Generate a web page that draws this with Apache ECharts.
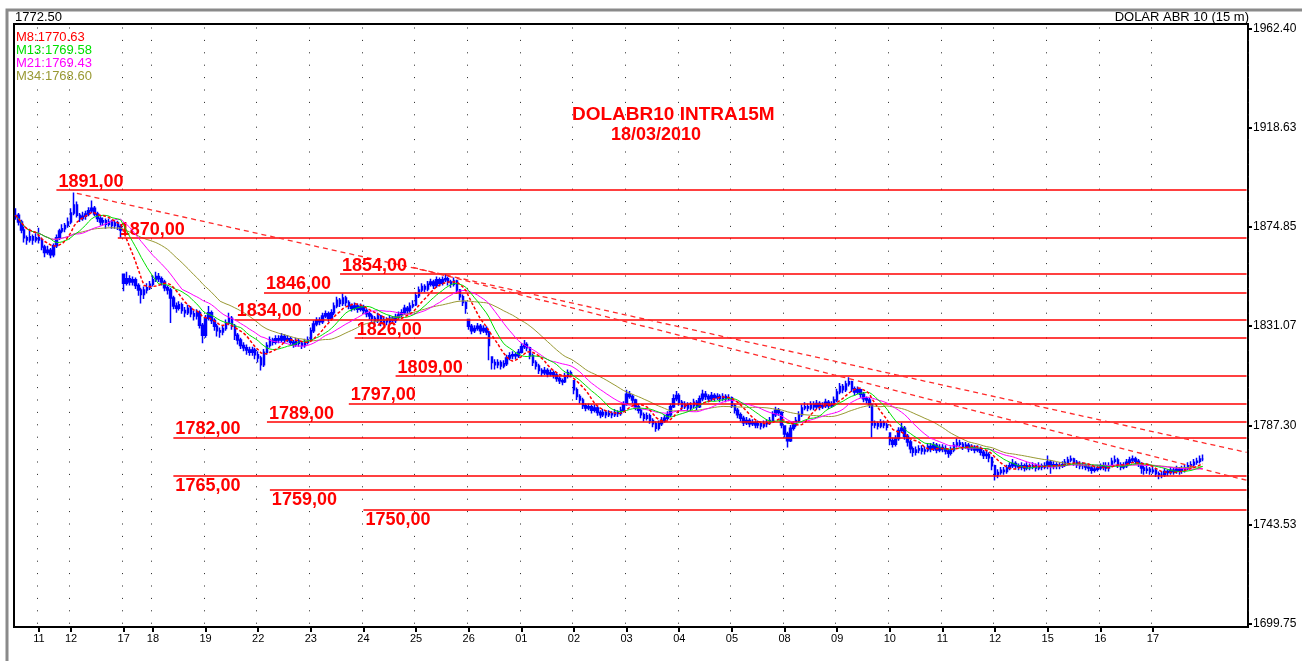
<!DOCTYPE html>
<html>
<head>
<meta charset="UTF-8">
<title>DOLABR10 INTRA15M</title>
<script src="https://cdn.jsdelivr.net/npm/echarts@6/dist/echarts.min.js"></script>
<style>
  html, body { margin: 0; padding: 0; background: #fff; }
  #main { width: 1302px; height: 661px; }
</style>
</head>
<body>
<div id="main"></div>
<script type="text/javascript">
    // dias do grafico (o primeiro bloco e o resto do pregao anterior, sem rotulo)
    var dayLabels = ['', '11', '12', '17', '18', '19', '22', '23', '24', '25', '26', '01', '02', '03', '04', '05', '08', '09', '10', '11', '12', '15', '16', '17'];

    // fechamentos de 30 min, um array por dia
    var closes = [
        [1880, 1877, 1873.5, 1870, 1869, 1870.5, 1869, 1870],
        [1869, 1866, 1863.5, 1864.5, 1862.5, 1866.5, 1870, 1873, 1874, 1875.5, 1877],
        [1881, 1884.5, 1880, 1878.5, 1879.5, 1880.5, 1882, 1883, 1880.5, 1878.5, 1877, 1877.5, 1876, 1877, 1875.5, 1876.5, 1875, 1873.5],
        [1850, 1852, 1850.5, 1851.5, 1849, 1847, 1845, 1847, 1848, 1849.5],
        [1851.5, 1853, 1852, 1850.5, 1848, 1847, 1843.5, 1840, 1839, 1840.5, 1838, 1837, 1839, 1836.5, 1835.5, 1837, 1831.5, 1827],
        [1834.5, 1837, 1833.5, 1831, 1829, 1828.5, 1830, 1832.5, 1834.5, 1831, 1827, 1825, 1822.5, 1821.5, 1820.5, 1819.5, 1820.5, 1818.5],
        [1817, 1814, 1819.5, 1822.5, 1825, 1824, 1825.5, 1825, 1826.5, 1825, 1825.5, 1824, 1823, 1824.5, 1823.5, 1822.5, 1824, 1825],
        [1829, 1832, 1833.5, 1833, 1835.5, 1836.5, 1834.5, 1837, 1840, 1842.5, 1841, 1843.5, 1841.5, 1840, 1839, 1840, 1838.5, 1839.5],
        [1838, 1836.5, 1835.5, 1834.5, 1833.5, 1835.5, 1832.5, 1834, 1833, 1834.5, 1833.5, 1835, 1836, 1837, 1839, 1838, 1840, 1840.5],
        [1844.5, 1847, 1848.5, 1847.5, 1849.5, 1850.5, 1849, 1851.5, 1850, 1851.5, 1852, 1850.5, 1849.5, 1851, 1847, 1844, 1841.5, 1839],
        [1831, 1829, 1830, 1831, 1829, 1830, 1828.5, 1822.5, 1815, 1814, 1815, 1813.5, 1814.5, 1817, 1818, 1818.5, 1818, 1819.5],
        [1822, 1823, 1821.5, 1818, 1815, 1813.5, 1811.5, 1810.5, 1811.5, 1810, 1810.5, 1809.5, 1808, 1807, 1806.5, 1809, 1810.5, 1810],
        [1803, 1800, 1798.5, 1796, 1795, 1795.5, 1794, 1795, 1793, 1792, 1793, 1792, 1792.5, 1792, 1793, 1792.5, 1794, 1796.5],
        [1801, 1800, 1798.5, 1795.5, 1794, 1792, 1790.5, 1791.5, 1789.5, 1788, 1786, 1788, 1789.5, 1790.5, 1792, 1795.5, 1799, 1800.5],
        [1797.5, 1795.5, 1796.5, 1795, 1796, 1797.5, 1795.5, 1799, 1801, 1800, 1799, 1800.5, 1799.5, 1800, 1799, 1800, 1799, 1799.5],
        [1796, 1794, 1792, 1790.5, 1788.5, 1789.5, 1788, 1788.5, 1787.5, 1788, 1787, 1788, 1788.5, 1789.5, 1792, 1794, 1793, 1787.5],
        [1783.5, 1780.5, 1786, 1787.5, 1789.5, 1792, 1795, 1795.5, 1795, 1796.5, 1795.5, 1797, 1795.5, 1796, 1797.5, 1796, 1796.5, 1798.5],
        [1802, 1804.5, 1803, 1805.5, 1806.5, 1803.5, 1802, 1803, 1801, 1799, 1798.5, 1796.5, 1787.5, 1788, 1787, 1788.5, 1787.5, 1786.5],
        [1780.5, 1779, 1781.5, 1785, 1786, 1782.5, 1780, 1777, 1775.5, 1776.5, 1777, 1776, 1776.5, 1778, 1777, 1778.5, 1776.5, 1777.5],
        [1777, 1776, 1775, 1776.5, 1778.5, 1779.5, 1779, 1778, 1778.5, 1777, 1777.5, 1776.5, 1777, 1775.5, 1774, 1774.5, 1773, 1769.5],
        [1765.5, 1766.5, 1767.5, 1767, 1768.5, 1769.5, 1770.5, 1769.5, 1769, 1769.5, 1768.5, 1769.5, 1769, 1769.5, 1768.5, 1769.5, 1769, 1769.5],
        [1771, 1769.5, 1770, 1769.5, 1769.5, 1770, 1771, 1772, 1772.5, 1771, 1770, 1769.5, 1769.5, 1769, 1768.5, 1767.5, 1768, 1768.5],
        [1769, 1769.5, 1768.5, 1769.5, 1771.5, 1772, 1770, 1769, 1769.5, 1771, 1772, 1772.5, 1771.5, 1770.5, 1768.5, 1767.5, 1768, 1767],
        [1767.5, 1766, 1765.5, 1765.5, 1767, 1766.5, 1767.5, 1767, 1768, 1767.5, 1768, 1768.5, 1769.5, 1770, 1771, 1771.5, 1772.5, 1772.5]
    ];
    var highs = [
        [1883, 1881, 1878, 1875, 1871, 1874, 1871.5, 1872],
        [1874.5, 1870, 1867, 1866.5, 1865.5, 1867.5, 1871.5, 1874, 1876, 1876.5, 1879],
        [1883, 1890, 1886, 1881, 1881.5, 1882, 1883.5, 1886.5, 1884, 1881.5, 1879.5, 1879, 1878.5, 1878.5, 1878, 1877.5, 1877.5, 1876],
        [1854, 1855, 1853.5, 1853, 1852.5, 1850, 1848, 1848.5, 1850, 1851],
        [1853.5, 1855, 1854.5, 1853, 1851.5, 1849, 1848, 1844.5, 1841.5, 1842, 1841.5, 1839.5, 1840.5, 1840, 1838, 1838.5, 1838, 1832.5],
        [1836, 1840, 1838, 1834.5, 1832, 1830.5, 1831.5, 1834, 1837, 1835.5, 1832, 1828, 1826, 1824, 1823, 1822, 1822, 1821.5],
        [1820, 1818, 1821, 1824, 1826.5, 1826, 1827, 1827, 1828, 1827.5, 1827, 1826.5, 1825, 1826, 1825.5, 1824.5, 1825.5, 1826.5],
        [1830.5, 1833.5, 1835, 1835, 1837, 1838, 1837.5, 1838.5, 1841.5, 1844, 1843.5, 1845.5, 1844.5, 1842.5, 1841, 1841.5, 1841, 1841],
        [1840.5, 1839, 1837.5, 1836.5, 1835.5, 1837, 1836, 1835.5, 1835, 1836, 1835.5, 1836.5, 1837.5, 1838.5, 1840.5, 1840, 1841.5, 1842.5],
        [1846, 1848.5, 1850, 1849.5, 1851, 1852, 1851.5, 1853, 1852.5, 1853, 1854, 1853, 1851.5, 1852.5, 1851.5, 1847.5, 1845, 1842],
        [1834, 1832, 1831.5, 1832.5, 1832, 1831.5, 1831, 1829, 1817.5, 1816.5, 1816.5, 1816, 1816, 1818.5, 1819.5, 1820, 1819.5, 1821],
        [1823.5, 1825, 1824, 1822, 1819, 1816, 1814.5, 1812.5, 1813, 1812.5, 1812, 1811.5, 1810.5, 1809, 1808, 1810.5, 1812, 1811.5],
        [1807, 1804, 1801, 1799.5, 1797, 1797, 1796.5, 1796.5, 1796, 1794, 1794.5, 1794, 1794, 1793.5, 1794.5, 1794, 1795.5, 1798],
        [1803, 1802.5, 1801, 1799, 1796.5, 1795, 1793, 1793, 1792.5, 1790.5, 1789, 1789.5, 1791, 1792, 1793.5, 1797, 1801, 1802.5],
        [1801.5, 1798.5, 1798, 1797.5, 1797.5, 1799, 1798.5, 1800.5, 1803, 1802.5, 1801, 1802, 1801.5, 1801.5, 1801, 1801.5, 1801, 1801],
        [1800, 1797, 1795, 1793, 1791.5, 1791, 1790.5, 1790, 1789.5, 1789.5, 1789, 1789.5, 1790, 1791, 1793.5, 1795.5, 1795, 1793.5],
        [1787, 1784.5, 1787.5, 1789, 1791, 1793.5, 1796.5, 1797.5, 1797, 1798, 1798, 1798.5, 1798, 1797.5, 1799, 1798.5, 1798, 1800],
        [1803.5, 1806, 1805.5, 1807, 1808.5, 1807, 1804.5, 1804.5, 1803.5, 1802, 1800, 1799.5, 1797, 1789.5, 1789, 1790, 1789.5, 1788.5],
        [1784, 1782, 1783, 1786.5, 1788.5, 1787, 1783.5, 1781, 1778, 1778, 1778.5, 1778.5, 1778, 1779.5, 1779.5, 1780, 1779.5, 1779],
        [1779, 1778.5, 1777, 1778, 1780, 1781.5, 1781, 1780, 1780, 1779.5, 1779, 1778.5, 1778.5, 1778, 1776.5, 1776, 1775.5, 1773.5],
        [1770, 1768, 1769, 1769, 1770, 1771, 1772.5, 1771.5, 1770.5, 1771, 1770.5, 1771, 1770.5, 1771, 1770.5, 1771, 1770.5, 1771],
        [1774, 1772, 1771.5, 1771, 1771, 1771.5, 1772.5, 1773.5, 1774, 1773, 1772, 1771.5, 1771, 1770.5, 1770, 1769.5, 1769.5, 1770],
        [1770.5, 1771, 1771, 1771, 1773, 1774, 1773, 1771, 1771, 1772.5, 1773.5, 1774, 1773.5, 1772.5, 1771, 1769.5, 1769.5, 1769],
        [1769, 1768.5, 1767, 1767, 1768.5, 1768, 1769, 1768.5, 1769.5, 1769, 1769.5, 1770, 1771, 1771.5, 1772.5, 1773, 1774, 1774.5]
    ];
    var lows = [
        [1878, 1875.5, 1872, 1868, 1867, 1868, 1867, 1868],
        [1867.5, 1864.5, 1861.5, 1862.5, 1861, 1861.5, 1865.5, 1869, 1872, 1872.5, 1874.5],
        [1876, 1880, 1879, 1877, 1877.5, 1878, 1879.5, 1881, 1879.5, 1877, 1875.5, 1875.5, 1874, 1875, 1874, 1874, 1873.5, 1870],
        [1846.5, 1849, 1849, 1849, 1847.5, 1844.5, 1841, 1843, 1845.5, 1847],
        [1848.5, 1850.5, 1850.5, 1849, 1846.5, 1845, 1832.5, 1838.5, 1837, 1838, 1836.5, 1835, 1836, 1835, 1833.5, 1834, 1830, 1823.5],
        [1826, 1833.5, 1832, 1829, 1826.5, 1826, 1827, 1829, 1831.5, 1829.5, 1825, 1823, 1821, 1820, 1818.5, 1818, 1818, 1816.5],
        [1815, 1811.5, 1813, 1818.5, 1821.5, 1822.5, 1823, 1823.5, 1824, 1823.5, 1824, 1822.5, 1821.5, 1822, 1822, 1821, 1821.5, 1823],
        [1824.5, 1828, 1831, 1831.5, 1832, 1834.5, 1833, 1833.5, 1836, 1839, 1839.5, 1840, 1840, 1838.5, 1837.5, 1838, 1837, 1837.5],
        [1836.5, 1835, 1834, 1833, 1831.5, 1832.5, 1831, 1831.5, 1831.5, 1832, 1832, 1832.5, 1834, 1835, 1836, 1836.5, 1837, 1839],
        [1840, 1843.5, 1846, 1846, 1846.5, 1848.5, 1847.5, 1848, 1848.5, 1849, 1850.5, 1849, 1848, 1848.5, 1845.5, 1842.5, 1840, 1836.5],
        [1829.5, 1827.5, 1828, 1829, 1827.5, 1828, 1827, 1816, 1812, 1812, 1812.5, 1812, 1812.5, 1813.5, 1816, 1816.5, 1816.5, 1817],
        [1819, 1821, 1820, 1816.5, 1813.5, 1812, 1810, 1809, 1809.5, 1808.5, 1809, 1808, 1806.5, 1805.5, 1805, 1806, 1808, 1808.5],
        [1801, 1798.5, 1797, 1794.5, 1793.5, 1794, 1792.5, 1793, 1791.5, 1790.5, 1791, 1790.5, 1791, 1790.5, 1791, 1791, 1791.5, 1793.5],
        [1796, 1799, 1797, 1794, 1792.5, 1790.5, 1789, 1789.5, 1788, 1786.5, 1784.5, 1785, 1787, 1788.5, 1789.5, 1791, 1795, 1798],
        [1796, 1794, 1794.5, 1793.5, 1794, 1795, 1794, 1795, 1798, 1798.5, 1797.5, 1798, 1798, 1798.5, 1797.5, 1798, 1797.5, 1798],
        [1795, 1792.5, 1790.5, 1789, 1787, 1787.5, 1786.5, 1787, 1786, 1786, 1785.5, 1786, 1786.5, 1787.5, 1789, 1791, 1791.5, 1786],
        [1782, 1777.5, 1780, 1785, 1786.5, 1788.5, 1791, 1794, 1793.5, 1794, 1794, 1794.5, 1794, 1794.5, 1795, 1794.5, 1795, 1795.5],
        [1797.5, 1801, 1801.5, 1802, 1804.5, 1802, 1800.5, 1801, 1799.5, 1797.5, 1797, 1795, 1782, 1786, 1785.5, 1786, 1786, 1785],
        [1778.5, 1777.5, 1778, 1780.5, 1784, 1781, 1778, 1775, 1773.5, 1774, 1775, 1774.5, 1774.5, 1775.5, 1775.5, 1776, 1775, 1775.5],
        [1775.5, 1774.5, 1773, 1774, 1775.5, 1777.5, 1777.5, 1776.5, 1777, 1775.5, 1776, 1775, 1775.5, 1774, 1772.5, 1772.5, 1771, 1767.5],
        [1763, 1764, 1765.5, 1765.5, 1766, 1767.5, 1768.5, 1768, 1767.5, 1767.5, 1767, 1767.5, 1767.5, 1768, 1767, 1767.5, 1767.5, 1768],
        [1768, 1766, 1768, 1768, 1768, 1768.5, 1769, 1770, 1771, 1769.5, 1768.5, 1768, 1768, 1767.5, 1767, 1766, 1766.5, 1767],
        [1767.5, 1767.5, 1767, 1767, 1769, 1770.5, 1768.5, 1767.5, 1768, 1768.5, 1770, 1771, 1770, 1769, 1766, 1765.5, 1766, 1765.5],
        [1766, 1764.5, 1763.5, 1764, 1764.5, 1765, 1765.5, 1765.5, 1766, 1765.5, 1766, 1766.5, 1767.5, 1768.5, 1769, 1770, 1770.5, 1771.5]
    ];
    var emptyBars = 15;   // espaco vazio a direita

    var yTicks = [1699.75, 1743.53, 1787.30, 1831.07, 1874.85, 1918.63, 1962.40];

    // suportes / resistencias e onde cada linha comeca (indice da barra)
    var levels = [1891, 1870, 1854, 1846, 1834, 1826, 1809, 1797, 1789, 1782, 1765, 1759, 1750];
    var levelStartBar = [14, 35, 111, 85, 75, 116, 130, 114, 86, 54, 54, 87, 119];
    var levelsBelow = [1765, 1759, 1750];
    // LTAs: [barra inicial, valor, barra final, valor]
    var trendLines = [[21, 1889.6, 421, 1775.4], [136, 1857.0, 421, 1763.1]];

    var maPeriods = [8, 13, 21, 34];
    var maLabels = ['M8:1770.63', 'M13:1769.58', 'M21:1769.43', 'M34:1768.60'];
    var maColors = ['#ff0000', '#00e000', '#ff00ff', '#999933'];

    var lastPrice = '1772.50';
    var symbolName = 'DOLAR ABR 10 (15 m)';
    var chartTitle = 'DOLABR10 INTRA15M';
    var chartDate = '18/03/2010';

    var FONT = 'Arial, "Liberation Sans", sans-serif';

    // monta as series
    var close = [], high = [], low = [], cats = [], dayAt = {};
    for (var d = 0; d < dayLabels.length; d++) {
        for (var j = 0; j < closes[d].length; j++) {
            if (j === 0 && dayLabels[d]) dayAt[close.length] = dayLabels[d];
            close.push(closes[d][j]);
            high.push(highs[d][j]);
            low.push(lows[d][j]);
        }
    }
    var n = close.length;
    var lastCat = n + emptyBars - 1;
    for (var i = 0; i <= lastCat; i++) cats.push(String(i));

    var ohlc = close.map(function (c, i) {
        var o = i === 0 ? c : Math.min(high[i], Math.max(low[i], close[i - 1]));
        return [o, c, low[i], high[i]];
    });

    function movingAvg(p) {
        return close.map(function (c, i) {
            var s = 0, k = 0;
            for (var j = Math.max(0, i - p + 1); j <= i; j++) { s += close[j]; k++; }
            return +(s / k).toFixed(2);
        });
    }

    function isDayStart(index) { return dayAt[index] !== undefined; }

    var lineData = levels.map(function (v, k) {
        var below = levelsBelow.indexOf(v) >= 0;
        return [{
            coord: [levelStartBar[k], v],
            label: {
                show: true,
                position: below ? 'insideStartBottom' : 'insideStartTop',
                distance: below ? [2, 1] : [2, -1],
                formatter: v.toFixed(2).replace('.', ',')
            }
        }, { coord: [lastCat, v] }];
    });
    trendLines.forEach(function (t) {
        lineData.push([{
            coord: [t[0], t[1]],
            lineStyle: { type: [5, 4], width: 1.3, color: '#ff2a2a' },
            label: { show: false }
        }, { coord: [t[2], t[3]] }]);
    });

    var series = [{
        name: 'DOLAR',
        type: 'candlestick',
        data: ohlc,
        barWidth: 2,
        itemStyle: { color: '#0000ff', color0: '#0000ff', borderColor: '#0000ff', borderColor0: '#0000ff', borderWidth: 1.5 },
        markLine: {
            silent: true,
            animation: false,
            symbol: ['none', 'none'],
            lineStyle: { color: '#ff0000', width: 1.5, type: 'solid' },
            label: { color: '#ff0000', fontSize: 18, fontWeight: 'bold', fontFamily: FONT },
            data: lineData
        }
    }];
    maPeriods.forEach(function (p, k) {
        series.push({
            name: maLabels[k],
            type: 'line',
            data: movingAvg(p),
            symbol: 'none',
            z: 3 + (maPeriods.length - k),
            itemStyle: { color: maColors[k] },
            lineStyle: { color: maColors[k], width: k === 0 ? 1.5 : 1, type: k === 0 ? [3, 2] : 'solid' }
        });
    });

    var myChart = echarts.init(document.getElementById('main'));
    myChart.setOption({
        animation: false,
        backgroundColor: '#fff',
        title: [
            { text: lastPrice, left: 15, top: 11, padding: 0, textStyle: { fontSize: 13, fontWeight: 'normal', color: '#000', fontFamily: FONT } },
            { text: symbolName, right: 53, top: 11, padding: 0, textStyle: { fontSize: 13, fontWeight: 'normal', color: '#000', fontFamily: FONT } },
            { text: chartTitle, left: 572, top: 105, padding: 0, textStyle: { fontSize: 19, fontWeight: 'bold', color: '#ff0000', fontFamily: FONT } },
            { text: chartDate, left: 611, top: 126, padding: 0, textStyle: { fontSize: 18, fontWeight: 'bold', color: '#ff0000', fontFamily: FONT } }
        ],
        legend: {
            orient: 'vertical', left: 11, top: 31, padding: 0, itemGap: 0,
            itemWidth: 0, itemHeight: 13, icon: 'rect', selectedMode: false,
            textStyle: { fontSize: 13, fontFamily: FONT },
            data: maLabels.map(function (l, k) { return { name: l, textStyle: { color: maColors[k] } }; })
        },
        graphic: [{
            type: 'rect', silent: true, z: -10,
            shape: { x: 7, y: 10, width: 1320, height: 680 },
            style: { fill: null, stroke: '#8a8a8a', lineWidth: 3 }
        }],
        grid: { left: 14, top: 24, width: 1234, height: 603, show: true, borderColor: '#000', borderWidth: 2 },
        xAxis: {
            type: 'category',
            data: cats,
            boundaryGap: true,
            axisLine: { show: false },
            axisTick: { show: true, alignWithLabel: true, interval: isDayStart, length: 5, lineStyle: { color: '#000', width: 2 } },
            axisLabel: {
                interval: isDayStart, margin: 6, color: '#000', fontSize: 11, fontFamily: FONT,
                formatter: function (v, idx) { return dayAt[idx] || ''; }
            },
            splitLine: { show: true, interval: isDayStart, lineStyle: { color: '#222', width: 1, type: [1, 11.4], dashOffset: 8.9 } }
        },
        yAxis: {
            type: 'value',
            position: 'right',
            min: 1698.4,
            max: 1964.3,
            axisLine: { show: false },
            axisTick: { show: true, customValues: yTicks, length: 4, lineStyle: { color: '#000', width: 2 } },
            axisLabel: {
                customValues: yTicks, margin: 5, color: '#000', fontSize: 12, fontFamily: FONT,
                formatter: function (v) { return v.toFixed(2); }
            },
            splitLine: { show: false }
        },
        series: series
    });
</script>
</body>
</html>
